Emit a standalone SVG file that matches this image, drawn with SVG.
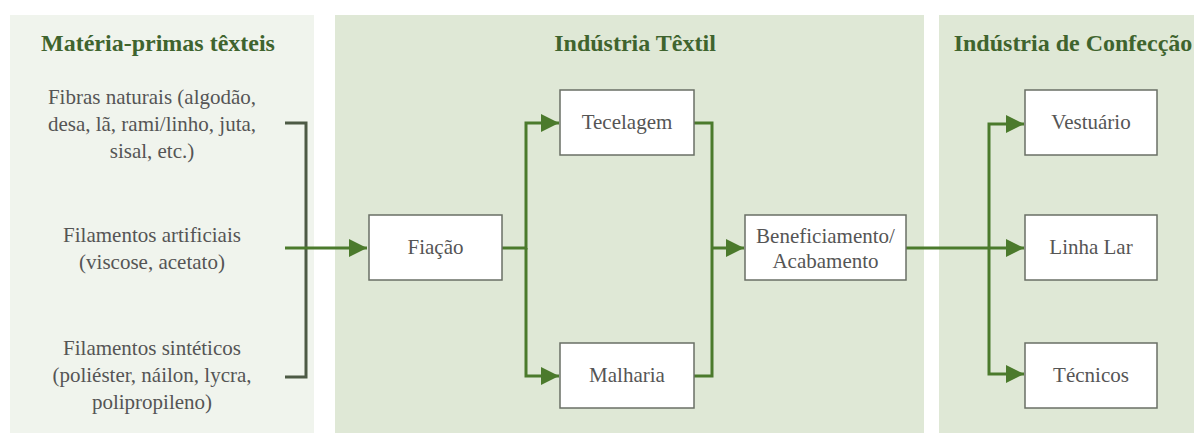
<svg xmlns="http://www.w3.org/2000/svg" width="1197" height="435" viewBox="0 0 1197 435">
<defs>
<marker id="arr" viewBox="0 0 18 18" refX="18" refY="9" markerWidth="18" markerHeight="18" markerUnits="userSpaceOnUse" orient="auto">
<path d="M0,0 L18,9 L0,18 Z" fill="#4b7a2c"/>
</marker>
<style>
.panel{fill:#dfe8d6}
.panelL{fill:#f0f4ed}
text{font-family:'Liberation Serif','Times New Roman',serif}
.title{font-weight:bold;font-size:24px;fill:#3f642e;text-anchor:middle}
.txt{font-size:21px;fill:#555;text-anchor:middle}
.box{fill:#fff;stroke:#6a6f66;stroke-width:1.5}
.con{fill:none;stroke:#4b7a2c;stroke-width:3}
.brk{fill:none;stroke:#4d5a45;stroke-width:3}
</style>
</defs>
<rect width="1197" height="435" fill="#fff"/>
<g id="panels">
<rect class="panelL" x="10" y="15" width="304" height="418"/>
<rect class="panel" x="335" y="15" width="589" height="418"/>
<rect class="panel" x="939" y="15" width="255" height="418"/>
<text class="title" x="158" y="51">Matéria-primas têxteis</text>
<text class="title" x="635" y="51">Indústria Têxtil</text>
<text class="title" x="1073" y="51">Indústria de Confecção</text>
</g>
<g id="raw-natural">
<text class="txt" x="152" y="104">Fibras naturais (algodão,</text>
<text class="txt" x="152" y="131">desa, lã, rami/linho, juta,</text>
<text class="txt" x="152" y="158">sisal, etc.)</text>
</g>
<g id="raw-artificial">
<text class="txt" x="152" y="242">Filamentos artificiais</text>
<text class="txt" x="152" y="269">(viscose, acetato)</text>
</g>
<g id="raw-synthetic">
<text class="txt" x="152" y="355">Filamentos sintéticos</text>
<text class="txt" x="152" y="382">(poliéster, náilon, lycra,</text>
<text class="txt" x="152" y="409">polipropileno)</text>
</g>
<g id="connectors">
<path class="brk" d="M285,123 H306 V377 H285"/>
<path class="con" d="M285,248 H367" marker-end="url(#arr)"/>
<path class="con" d="M502,248 H526 V123 H559" marker-end="url(#arr)"/>
<path class="con" d="M526,248 V376 H559" marker-end="url(#arr)"/>
<path class="con" d="M694,123 H712 V376 H694"/>
<path class="con" d="M712,248 H744" marker-end="url(#arr)"/>
<path class="con" d="M906,248 H1024" marker-end="url(#arr)"/>
<path class="con" d="M989,248 V124 H1024" marker-end="url(#arr)"/>
<path class="con" d="M989,248 V374 H1024" marker-end="url(#arr)"/>
</g>
<g id="fiacao"><rect class="box" x="369" y="215" width="133" height="65"/><text class="txt" x="435.5" y="254">Fiação</text></g>
<g id="tecelagem"><rect class="box" x="560" y="90" width="134" height="65"/><text class="txt" x="627" y="129">Tecelagem</text></g>
<g id="malharia"><rect class="box" x="560" y="343" width="134" height="65"/><text class="txt" x="627" y="382">Malharia</text></g>
<g id="beneficiamento"><rect class="box" x="745" y="215" width="161" height="65"/><text class="txt" x="825.5" y="243">Beneficiamento/</text><text class="txt" x="825.5" y="268">Acabamento</text></g>
<g id="vestuario"><rect class="box" x="1025" y="90" width="132" height="65"/><text class="txt" x="1091" y="129">Vestuário</text></g>
<g id="linha-lar"><rect class="box" x="1025" y="215" width="132" height="65"/><text class="txt" x="1091" y="254">Linha Lar</text></g>
<g id="tecnicos"><rect class="box" x="1025" y="343" width="132" height="65"/><text class="txt" x="1091" y="382">Técnicos</text></g>
</svg>
